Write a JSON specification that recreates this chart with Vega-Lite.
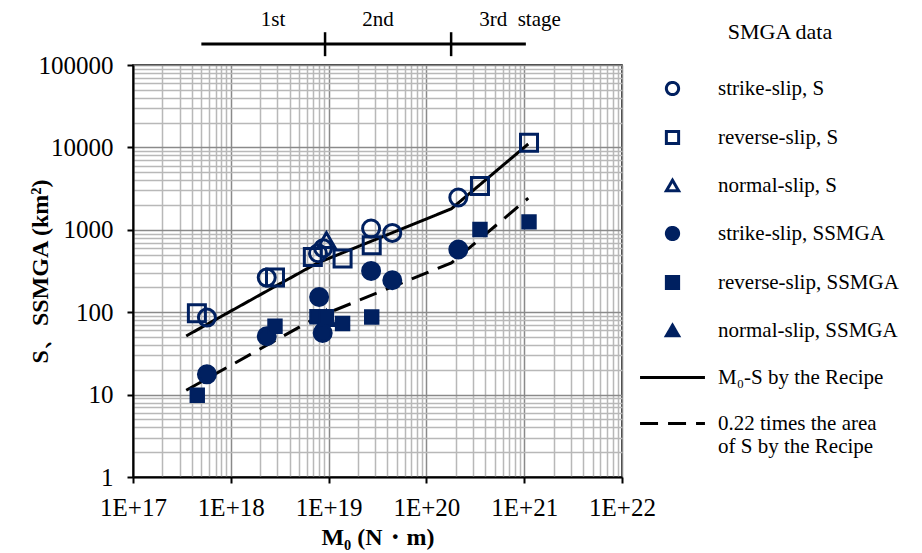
{
  "$schema": "https://vega.github.io/schema/vega-lite/v6.json",
  "width": 489,
  "height": 412,
  "autosize": {"type": "none"},
  "padding": {"left": 133, "top": 65, "right": 300, "bottom": 76},
  "background": "white",
  "config": {
    "view": {"stroke": "black", "strokeWidth": 1.5},
    "font": "Liberation Serif"
  },
  "datasets": {
    "pts": [
      {"series": "normal-slip, SSMGA", "m0": 9.5e18, "s": 85},
      {"series": "normal-slip, S", "m0": 9.5e18, "s": 748},
      {"series": "reverse-slip, S", "m0": 4.5e17, "s": 97},
      {"series": "reverse-slip, S", "m0": 2.83e18, "s": 263},
      {"series": "reverse-slip, S", "m0": 6.9e18, "s": 469},
      {"series": "reverse-slip, S", "m0": 1.39e19, "s": 448},
      {"series": "reverse-slip, S", "m0": 2.76e19, "s": 650},
      {"series": "reverse-slip, S", "m0": 3.53e20, "s": 3390},
      {"series": "reverse-slip, S", "m0": 1.12e21, "s": 11400},
      {"series": "strike-slip, S", "m0": 5.7e17, "s": 86},
      {"series": "strike-slip, S", "m0": 2.33e18, "s": 263},
      {"series": "strike-slip, S", "m0": 7.8e18, "s": 520},
      {"series": "strike-slip, S", "m0": 8.8e18, "s": 597},
      {"series": "strike-slip, S", "m0": 2.72e19, "s": 1037},
      {"series": "strike-slip, S", "m0": 4.48e19, "s": 917},
      {"series": "strike-slip, S", "m0": 2.12e20, "s": 2467},
      {"series": "reverse-slip, SSMGA", "m0": 4.54e17, "s": 9.8},
      {"series": "reverse-slip, SSMGA", "m0": 2.83e18, "s": 67.5},
      {"series": "reverse-slip, SSMGA", "m0": 7.6e18, "s": 88},
      {"series": "reverse-slip, SSMGA", "m0": 9.5e18, "s": 88},
      {"series": "reverse-slip, SSMGA", "m0": 1.39e19, "s": 73},
      {"series": "reverse-slip, SSMGA", "m0": 2.76e19, "s": 87.5},
      {"series": "reverse-slip, SSMGA", "m0": 3.53e20, "s": 1010},
      {"series": "reverse-slip, SSMGA", "m0": 1.12e21, "s": 1248},
      {"series": "strike-slip, SSMGA", "m0": 5.7e17, "s": 17.6},
      {"series": "strike-slip, SSMGA", "m0": 2.33e18, "s": 51},
      {"series": "strike-slip, SSMGA", "m0": 8e18, "s": 153},
      {"series": "strike-slip, SSMGA", "m0": 8.7e18, "s": 56},
      {"series": "strike-slip, SSMGA", "m0": 2.72e19, "s": 317},
      {"series": "strike-slip, SSMGA", "m0": 4.48e19, "s": 244},
      {"series": "strike-slip, SSMGA", "m0": 2.12e20, "s": 577}
    ],
    "lines": [
      {"series": "M₀-S by the Recipe", "m0": 3.5e17, "s": 51.5, "ord": 1},
      {"series": "M₀-S by the Recipe", "m0": 7.5e18, "s": 390, "ord": 2},
      {"series": "M₀-S by the Recipe", "m0": 1.8e20, "s": 1800, "ord": 3},
      {"series": "M₀-S by the Recipe", "m0": 1.1e21, "s": 11000, "ord": 4},
      {"series": "0.22 times the area of S by the Recipe", "m0": 3.5e17, "s": 11.3, "ord": 1},
      {"series": "0.22 times the area of S by the Recipe", "m0": 7.5e18, "s": 86, "ord": 2},
      {"series": "0.22 times the area of S by the Recipe", "m0": 1.8e20, "s": 396, "ord": 3},
      {"series": "0.22 times the area of S by the Recipe", "m0": 1.1e21, "s": 2420, "ord": 4}
    ],
    "stageline": [
      {"m0": 5.0e17, "m0b": 1.04e21, "s": 180000}
    ],
    "stagetick": [
      {"m0": 9.2e18, "s": 128000, "s2": 250000},
      {"m0": 1.79e20, "s": 128000, "s2": 250000}
    ],
    "stagetext": [
      {"label": "1st", "m0": 2.7e18, "s": 352000},
      {"label": "2nd", "m0": 3.2e19, "s": 352000},
      {"label": "3rd\u00a0\u00a0stage", "m0": 9.06e20, "s": 352000}
    ]
  },
  "encoding": {
    "x": {
      "field": "m0",
      "type": "quantitative",
      "scale": {"type": "log", "domain": [1e17, 1e22], "nice": false},
      "axis": {
        "title": "M₀ (N・m)",
        "titleFont": "Liberation Serif",
        "titleFontSize": 24,
        "titleFontWeight": "bold",
        "titleColor": "black",
        "titlePadding": 5,
        "values": [1e17, 2e17, 3e17, 4e17, 5e17, 6e17, 7e17, 8e17, 9e17, 1e18, 2e18, 3e18, 4e18, 5e18, 6e18, 7e18, 8e18, 9e18, 1e19, 2e19, 3e19, 4e19, 5e19, 6e19, 7e19, 8e19, 9e19, 1e20, 2e20, 3e20, 4e20, 5e20, 6e20, 7e20, 8e20, 9e20, 1e21, 2e21, 3e21, 4e21, 5e21, 6e21, 7e21, 8e21, 9e21, 1e22],
        "labelExpr": "abs(log(datum.value)/LN10 - round(log(datum.value)/LN10)) < 0.001 ? '1E+' + round(log(datum.value)/LN10) : ''",
        "labelFont": "Liberation Serif",
        "labelFontSize": 25,
        "labelColor": "black",
        "labelFlush": false,
        "labelOverlap": false,
        "labelPadding": 12,
        "domainColor": "black",
        "domainWidth": 2,
        "tickColor": "black",
        "tickWidth": 2,
        "tickSize": 6,
        "tickOpacity": {"condition": {"test": "abs(log(datum.value)/LN10 - round(log(datum.value)/LN10)) < 0.001", "value": 1}, "value": 0},
        "grid": true,
        "gridColor": {"condition": {"test": "abs(log(datum.value)/LN10 - round(log(datum.value)/LN10)) < 0.001", "value": "#8a8a8a"}, "value": "#b8b8b8"},
        "gridWidth": 1.5
      }
    },
    "y": {
      "field": "s",
      "type": "quantitative",
      "scale": {"type": "log", "domain": [1, 100000], "nice": false},
      "axis": {
        "title": "S、SSMGA (km²)",
        "titleFont": "Liberation Serif",
        "titleFontSize": 24,
        "titleFontWeight": "bold",
        "titleColor": "black",
        "titlePadding": -14,
        "values": [1, 2, 3, 4, 5, 6, 7, 8, 9, 10, 20, 30, 40, 50, 60, 70, 80, 90, 100, 200, 300, 400, 500, 600, 700, 800, 900, 1000, 2000, 3000, 4000, 5000, 6000, 7000, 8000, 9000, 10000, 20000, 30000, 40000, 50000, 60000, 70000, 80000, 90000, 100000],
        "labelExpr": "abs(log(datum.value)/LN10 - round(log(datum.value)/LN10)) < 0.001 ? format(datum.value, 'd') : ''",
        "labelFont": "Liberation Serif",
        "labelFontSize": 25,
        "labelColor": "black",
        "labelFlush": false,
        "labelOverlap": false,
        "labelPadding": 14,
        "domainColor": "black",
        "domainWidth": 2,
        "tickColor": "black",
        "tickWidth": 2,
        "tickSize": 6,
        "tickOpacity": {"condition": {"test": "abs(log(datum.value)/LN10 - round(log(datum.value)/LN10)) < 0.001", "value": 1}, "value": 0},
        "grid": true,
        "gridColor": {"condition": {"test": "abs(log(datum.value)/LN10 - round(log(datum.value)/LN10)) < 0.001", "value": "#8a8a8a"}, "value": "#b8b8b8"},
        "gridWidth": 1.5
      }
    }
  },
  "layer": [
    {
      "data": {"name": "lines"},
      "mark": {"type": "line", "strokeWidth": 3},
      "encoding": {
        "strokeDash": {
          "field": "series", "type": "nominal",
          "scale": {
            "domain": ["strike-slip, S", "reverse-slip, S", "normal-slip, S", "strike-slip, SSMGA", "reverse-slip, SSMGA", "normal-slip, SSMGA", "M₀-S by the Recipe", "0.22 times the area of S by the Recipe"],
            "range": [[1, 0], [1, 0], [1, 0], [1, 0], [1, 0], [1, 0], [1, 0], [18, 10]]
          }
        },
        "stroke": {
          "field": "series", "type": "nominal",
          "scale": {
            "domain": ["strike-slip, S", "reverse-slip, S", "normal-slip, S", "strike-slip, SSMGA", "reverse-slip, SSMGA", "normal-slip, SSMGA", "M₀-S by the Recipe", "0.22 times the area of S by the Recipe"],
            "range": ["#002060", "#002060", "#002060", "#002060", "#002060", "#002060", "black", "black"]
          }
        },
        "order": {"field": "ord", "type": "quantitative"}
      }
    },
    {
      "data": {"name": "pts"},
      "transform": [{"filter": "datum.series != 'reverse-slip, SSMGA'"}],
      "mark": {"type": "point", "strokeWidth": 3, "opacity": 1, "size": 289},
      "encoding": {
        "shape": {
          "field": "series", "type": "nominal",
          "scale": {
            "domain": ["strike-slip, S", "reverse-slip, S", "normal-slip, S", "strike-slip, SSMGA", "reverse-slip, SSMGA", "normal-slip, SSMGA", "M₀-S by the Recipe", "0.22 times the area of S by the Recipe"],
            "range": ["circle", "square", "triangle-up", "circle", "square", "triangle-up", "M-5.3,0H5.3", "M-5.3,0H5.3"]
          },
          "legend": {
            "title": "SMGA data",
            "orient": "none",
            "legendX": 529,
            "legendY": -43,
            "titleFont": "Liberation Serif",
            "titleFontSize": 22,
            "titleFontWeight": "normal",
            "titleColor": "black",
            "titleAnchor": "middle",
            "titlePadding": 34,
            "labelFont": "Liberation Serif",
            "labelFontSize": 21,
            "labelColor": "black",
            "labelLimit": 400,
            "labelOffset": 35,
            "rowPadding": 24,
            "symbolSize": 150,
            "symbolStrokeWidth": 3,
            "labelExpr": "datum.label == '0.22 times the area of S by the Recipe' ? ['0.22 times the area', 'of S by the Recipe'] : datum.label"
          }
        },
        "fill": {
          "field": "series", "type": "nominal",
          "scale": {
            "domain": ["strike-slip, S", "reverse-slip, S", "normal-slip, S", "strike-slip, SSMGA", "reverse-slip, SSMGA", "normal-slip, SSMGA", "M₀-S by the Recipe", "0.22 times the area of S by the Recipe"],
            "range": ["transparent", "transparent", "transparent", "#002060", "#002060", "#002060", "transparent", "transparent"]
          }
        },
        "stroke": {
          "field": "series", "type": "nominal",
          "scale": {
            "domain": ["strike-slip, S", "reverse-slip, S", "normal-slip, S", "strike-slip, SSMGA", "reverse-slip, SSMGA", "normal-slip, SSMGA", "M₀-S by the Recipe", "0.22 times the area of S by the Recipe"],
            "range": ["#002060", "#002060", "#002060", "#002060", "#002060", "#002060", "black", "black"]
          }
        }
      }
    },
    {
      "data": {"name": "pts"},
      "transform": [{"filter": "datum.series == 'reverse-slip, SSMGA'"}],
      "mark": {"type": "point", "strokeWidth": 2, "opacity": 1, "size": 180},
      "encoding": {
        "shape": {"field": "series", "type": "nominal"},
        "fill": {"field": "series", "type": "nominal"},
        "stroke": {"field": "series", "type": "nominal"}
      }
    },
    {
      "data": {"name": "stageline"},
      "mark": {"type": "rule", "strokeWidth": 3, "color": "black", "clip": false},
      "encoding": {"x2": {"field": "m0b"}}
    },
    {
      "data": {"name": "stagetick"},
      "mark": {"type": "rule", "strokeWidth": 2.5, "color": "black", "clip": false},
      "encoding": {"y2": {"field": "s2"}}
    },
    {
      "data": {"name": "stagetext"},
      "mark": {"type": "text", "fontSize": 21, "font": "Liberation Serif", "color": "black", "clip": false},
      "encoding": {"text": {"field": "label", "type": "nominal"}}
    }
  ]
}
